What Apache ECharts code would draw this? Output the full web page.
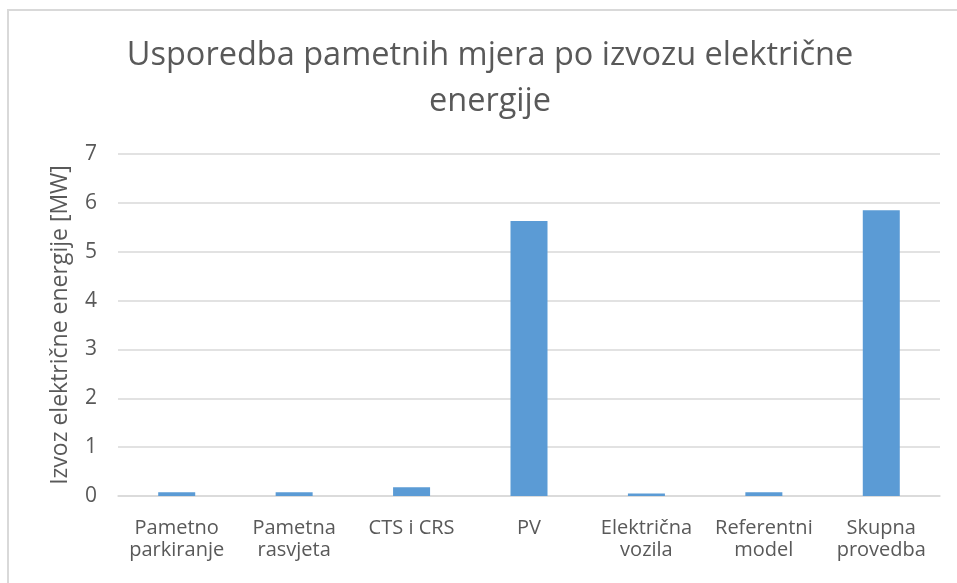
<!DOCTYPE html>
<html>
<head>
<meta charset="utf-8">
<script src="https://cdn.jsdelivr.net/npm/echarts@6/dist/echarts.min.js"></script>
<style>
  html, body { margin: 0; padding: 0; background: #fff; }
  #chart { width: 957px; height: 583px; }
</style>
</head>
<body>
<div id="chart"></div>
<script>
const categories = [
  'Pametno\nparkiranje',
  'Pametna\nrasvjeta',
  'CTS i CRS',
  'PV',
  'Električna\nvozila',
  'Referentni\nmodel',
  'Skupna\nprovedba'
]
const exportValues = [0.075, 0.075, 0.18, 5.63, 0.05, 0.075, 5.85]
const yTicks = { min: 0, max: 7, interval: 1 }

const textColor = '#595959'
const fontFamily = '"Open Sans", "Noto Sans", sans-serif'

const chart = echarts.init(document.getElementById('chart'))
chart.setOption({
  animation: false,
  textStyle: { fontFamily },
  title: {
    text: 'Usporedba pametnih mjera po izvozu električne\nenergije',
    left: 485,
    textAlign: 'center',
    top: 28,
    textStyle: { fontSize: 32.5, fontWeight: 'normal', color: textColor, lineHeight: 46, fontFamily }
  },
  graphic: [{
    type: 'rect',
    shape: { x: 8, y: 10, width: 1000, height: 700 },
    style: { fill: 'none', stroke: '#d9d9d9', lineWidth: 2 },
    silent: true
  }],
  grid: { left: 118, right: 17, top: 154, bottom: 87 },
  xAxis: {
    type: 'category',
    data: categories,
    axisLine: { lineStyle: { color: '#d9d9d9', width: 1.5 } },
    axisTick: { show: false },
    axisLabel: { color: textColor, fontSize: 20, lineHeight: 22, margin: 21, interval: 0, fontFamily }
  },
  yAxis: {
    type: 'value',
    min: yTicks.min,
    max: yTicks.max,
    interval: yTicks.interval,
    name: 'Izvoz električne energije [MW]',
    nameLocation: 'middle',
    nameRotate: 90,
    nameGap: 46,
    nameTextStyle: { color: textColor, fontSize: 23, fontFamily },
    axisLine: { show: false },
    axisTick: { show: false },
    axisLabel: { color: textColor, fontSize: 21, margin: 21, fontFamily },
    splitLine: { lineStyle: { color: '#d9d9d9', width: 1.5 } }
  },
  series: [{
    type: 'bar',
    data: exportValues,
    barWidth: 37,
    itemStyle: { color: '#5b9bd5' }
  }]
})
</script>
</body>
</html>
